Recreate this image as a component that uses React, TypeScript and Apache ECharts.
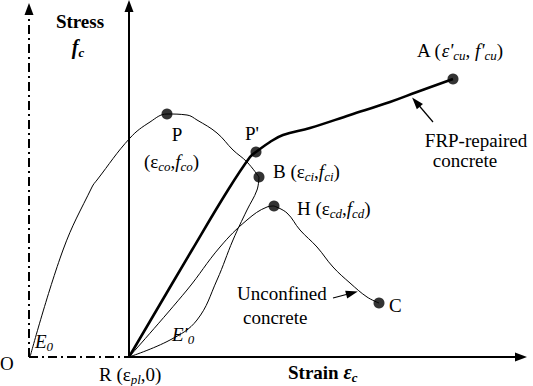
import { useEffect, useRef } from "react";
import * as echarts from "echarts";

// Schematic stress–strain data (strain units on x, stress units on y; O at origin)
const unconfinedRise = [[1, 0], [34, 107], [63, 170], [68, 177], [101, 219], [121, 235], [138, 243], [158, 242], [168, 237], [188, 224], [204, 207], [218, 195], [230, 180]];
const unloadBR = [[230, 180], [228, 167], [218, 147], [204, 117], [188, 77], [168, 37], [141, 17], [100, 0]];
const reloadRH = [[100, 0], [158, 67], [191, 110], [218, 137], [238, 150], [245, 151]];
const softeningHC = [[245, 151], [258, 144], [271, 127], [288, 110], [304, 90], [321, 74], [338, 60], [350, 54]];
const frpRepaired = [[100, 0], [163, 107], [199, 167], [221, 200], [227, 205], [241, 215], [254, 222], [281, 229], [321, 242], [361, 255], [388, 265], [424, 278]];
const keyPoints = [
  { name: "P", value: [138, 243] },
  { name: "P'", value: [227, 205] },
  { name: "B", value: [230, 180] },
  { name: "H", value: [245, 151] },
  { name: "C", value: [350, 54] },
  { name: "A", value: [424, 278] },
];
const strainOrigin = 0;
const strainPl = 100;
const strainMax = 498;
const stressMax = 357;

const FONT = "'Liberation Serif', 'Times New Roman', 'DejaVu Serif', serif";

export default function App() {
  const ref = useRef<HTMLDivElement>(null);
  useEffect(() => {
    if (!ref.current) return;
    const chart = echarts.init(ref.current, undefined, { renderer: "svg" });
    const base = { fontFamily: FONT, fontSize: 19, fill: "#000", lineHeight: 24 };
    const rich: any = {
      n: { ...base },
      i: { ...base, fontStyle: "italic" },
      s: { fontFamily: FONT, fontSize: 13, fontStyle: "italic", fill: "#000", lineHeight: 14, verticalAlign: "bottom" },
      b: { ...base, fontWeight: "bold" },
      bi: { ...base, fontSize: 20, fontWeight: "bold", fontStyle: "italic" },
      bs: { fontFamily: FONT, fontSize: 13, fontWeight: "bold", fontStyle: "italic", fill: "#000", lineHeight: 14, verticalAlign: "bottom" },
    };
    const T = (x: number, y: number, text: string, align: string = "left") => ({
      type: "text",
      x,
      y,
      silent: true,
      style: { text, rich, align, verticalAlign: "middle", fill: "#000", fontFamily: FONT, fontSize: 19 },
    });
    const thin = { color: "#000", width: 1 };
    const lineSeries = (data: number[][], width: number) => ({
      type: "line",
      data,
      smooth: 0.4,
      symbol: "none",
      silent: true,
      lineStyle: { color: "#000", width },
      z: 2,
    });
    const dashDot = { color: "#000", width: 2, type: [9, 4, 2, 4] };
    const solid = { color: "#000", width: 2, type: "solid" };
    chart.setOption({
      animation: false,
      grid: { left: 29, top: 0, width: 498, height: 357 },
      xAxis: { type: "value", min: 0, max: strainMax, show: false },
      yAxis: { type: "value", min: 0, max: stressMax, show: false },
      series: [
        lineSeries(unconfinedRise, 1),
        lineSeries(unloadBR, 1),
        lineSeries(reloadRH, 1),
        lineSeries(softeningHC, 1),
        lineSeries(frpRepaired, 2.6),
        {
          type: "scatter",
          data: keyPoints,
          symbol: "circle",
          symbolSize: 11,
          itemStyle: { color: "#000" },
          silent: true,
          z: 5,
          markLine: {
            silent: true,
            symbol: ["none", "triangle"],
            symbolSize: [9, 12],
            label: { show: false },
            emphasis: { disabled: true },
            data: [
              [{ coord: [strainOrigin, 0], lineStyle: dashDot }, { coord: [strainOrigin, 348] }],
              [{ coord: [strainOrigin, 0], lineStyle: dashDot }, { coord: [strainPl, 0], symbol: "none" }],
              [{ coord: [strainPl, 0], lineStyle: solid }, { coord: [strainPl, 351] }],
              [{ coord: [strainPl, 0], lineStyle: solid }, { coord: [492, 0] }],
              [{ coord: [404, 235], lineStyle: { ...thin, width: 1.2, type: "solid" } }, { coord: [387, 255], symbolSize: [8, 12] }],
              [{ coord: [304, 59], lineStyle: { ...thin, width: 1.2, type: "solid" } }, { coord: [323, 64], symbolSize: [8, 12] }],
            ],
          },
        },
      ],
      graphic: [
        T(80, 21, "{b|Stress}", "center"),
        T(78, 47, "{bi|f}{bs|c}", "center"),
        T(417, 50, "{n|A (}{i|ε'}{s|cu}{n|, }{i|f'}{s|cu}{n|)}"),
        T(476, 140, "{n|FRP-repaired}", "center"),
        T(465, 160, "{n|concrete}", "center"),
        T(177, 134, "{n|P}", "center"),
        T(144, 161, "{n|(ε}{s|co}{n|,}{i|f}{s|co}{n|)}"),
        T(252, 133, "{n|P'}", "center"),
        T(273, 171, "{n|B (ε}{s|ci}{n|,}{i|f}{s|ci}{n|)}"),
        T(297, 208, "{n|H (ε}{s|cd}{n|,}{i|f}{s|cd}{n|)}"),
        T(389, 305, "{n|C}"),
        T(237, 293, "{n|Unconfined}"),
        T(243, 317, "{n|concrete}"),
        T(35, 341, "{i|E}{s|0}"),
        T(172, 334, "{i|E'}{s|0}"),
        T(0, 363, "{n|O}"),
        T(99, 374, "{n|R (ε}{s|pl}{n|,0)}"),
        T(288, 372, "{b|Strain }{bi|ε}{bs|c}"),
      ],
    });
    return () => chart.dispose();
  }, []);
  return (
    <div
      ref={ref}
      style={{ position: "fixed", left: 0, top: 0, width: 533, height: 386, background: "#fff" }}
    />
  );
}
